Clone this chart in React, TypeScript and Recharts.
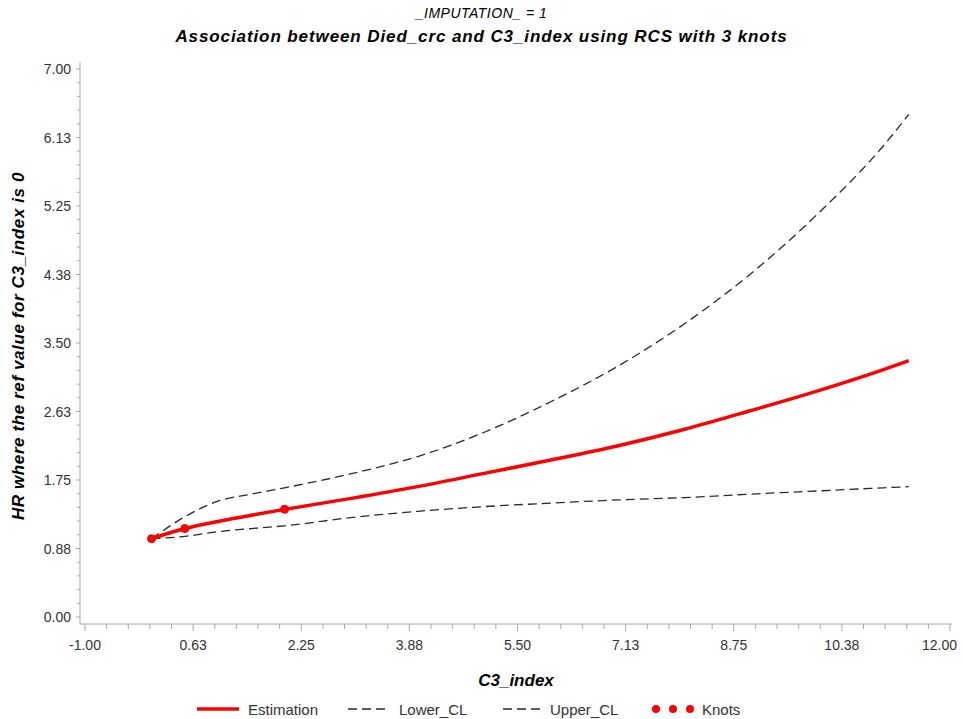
import React from 'react';
import { ComposedChart, Line, XAxis, YAxis, Label } from 'recharts';

// ---- data ----
const xValues = [0, 0.5, 1, 1.5, 2, 3, 4, 5, 6, 7, 8, 9, 10, 11, 11.38];
const estimation = [1.0, 1.13, 1.22, 1.3, 1.375, 1.515, 1.665, 1.835, 2.005, 2.185, 2.395, 2.635, 2.885, 3.16, 3.275];
const lowerCL = [1.0, 1.03, 1.09, 1.13, 1.165, 1.27, 1.35, 1.41, 1.455, 1.495, 1.525, 1.57, 1.61, 1.65, 1.665];
const upperCL = [1.0, 1.28, 1.48, 1.57, 1.65, 1.83, 2.05, 2.36, 2.75, 3.2, 3.74, 4.38, 5.14, 6.02, 6.42];
const knotX = [0, 0.5, 2];
const knotY = [1.0, 1.13, 1.375];

const xMajorTicks = [-1, 0.625, 2.25, 3.875, 5.5, 7.125, 8.75, 10.375, 12];
const xMajorLabels = ['-1.00', '0.63', '2.25', '3.88', '5.50', '7.13', '8.75', '10.38', '12.00'];
const yMajorTicks = [0, 0.875, 1.75, 2.625, 3.5, 4.375, 5.25, 6.125, 7];
const yMajorLabels = ['0.00', '0.88', '1.75', '2.63', '3.50', '4.38', '5.25', '6.13', '7.00'];
const MINOR_PER_MAJOR = 5;

const title1 = '_IMPUTATION_ = 1';
const title2 = 'Association between Died_crc and C3_index using RCS with 3 knots';
const xTitle = 'C3_index';
const yTitle = 'HR where the ref value for C3_index is 0';
const legendNames = ['Estimation', 'Lower_CL', 'Upper_CL', 'Knots'];

// ---- derived ----
const withMinors = (majors: number[]) => {
  const out: number[] = [];
  for (let i = 0; i < majors.length - 1; i++) {
    const step = (majors[i + 1] - majors[i]) / MINOR_PER_MAJOR;
    for (let k = 0; k < MINOR_PER_MAJOR; k++) out.push(majors[i] + step * k);
  }
  out.push(majors[majors.length - 1]);
  return out;
};
const xTicks = withMinors(xMajorTicks);
const yTicks = withMinors(yMajorTicks);

const rows = xValues.map((x, i) => {
  const ki = knotX.indexOf(x);
  return {
    x,
    est: estimation[i],
    lower: lowerCL[i],
    upper: upperCL[i],
    knot: ki >= 0 ? knotY[ki] : undefined,
  };
});

const FONT = '"Liberation Sans", Arial, sans-serif';
const AXIS_COLOR = '#a8a8a8';
const TEXT_COLOR = '#333333';
const CL_COLOR = '#2a2a2a';
const CL_DASH = '9 5';

const majorIndex = (majors: number[], v: number) => majors.findIndex((m) => Math.abs(m - v) < 1e-6);

const XTick = (props: any) => {
  const { x, y, payload } = props;
  const mi = majorIndex(xMajorTicks, payload.value);
  const len = mi >= 0 ? 7 : 5;
  const isLast = mi === xMajorTicks.length - 1;
  return (
    <g>
      <line x1={x} x2={x} y1={y} y2={y + len} stroke={AXIS_COLOR} strokeWidth={1} />
      {mi >= 0 && (
        <text
          x={isLast ? x + 7 : x}
          y={y + 21}
          textAnchor={isLast ? 'end' : 'middle'}
          dominantBaseline="central"
          fontSize={14}
          fill={TEXT_COLOR}
          fontFamily={FONT}
        >
          {xMajorLabels[mi]}
        </text>
      )}
    </g>
  );
};

const YTick = (props: any) => {
  const { x, y, payload } = props;
  const mi = majorIndex(yMajorTicks, payload.value);
  const len = mi >= 0 ? 4 : 3;
  return (
    <g>
      <line x1={x - len} x2={x} y1={y} y2={y} stroke={AXIS_COLOR} strokeWidth={1} />
      {mi >= 0 && (
        <text x={x - 9} y={y} textAnchor="end" dominantBaseline="central" fontSize={14} fill={TEXT_COLOR} fontFamily={FONT}>
          {yMajorLabels[mi]}
        </text>
      )}
    </g>
  );
};

const XTitle = (props: any) => {
  const vb = props.viewBox || {};
  return (
    <text x={vb.x + vb.width / 2} y={vb.y + 56} textAnchor="middle" dominantBaseline="central" fontSize={17} fontWeight="bold" fontStyle="italic" fill="#000" fontFamily={FONT}>
      {xTitle}
    </text>
  );
};

const YTitle = (props: any) => {
  const vb = props.viewBox || {};
  const cx = 18;
  const cy = vb.y + vb.height / 2 + 3;
  return (
    <text
      x={cx}
      y={cy}
      transform={`rotate(-90 ${cx} ${cy})`}
      textAnchor="middle"
      dominantBaseline="central"
      fontSize={17}
      fontWeight="bold"
      fontStyle="italic"
      letterSpacing={0.6}
      fill="#000"
      fontFamily={FONT}
    >
      {yTitle}
    </text>
  );
};

const KnotDot = (props: any) => {
  const { cx, cy, payload, index } = props;
  if (payload == null || payload.knot == null || cy == null || isNaN(cy)) return <g key={`k${index}`} />;
  return <circle key={`k${index}`} cx={cx} cy={cy} r={4} fill="#ff0000" stroke="#ff0000" strokeWidth={1} />;
};

const LegendBar = () => (
  <svg width={963} height={28} style={{ position: 'absolute', left: 0, top: 695 }}>
    <line x1={197} x2={239} y1={14} y2={14} stroke="#ff0000" strokeWidth={3.5} />
    <text x={248} y={14} dominantBaseline="central" fontSize={15} fill={TEXT_COLOR} fontFamily={FONT}>{legendNames[0]}</text>
    <line x1={348} x2={385} y1={14} y2={14} stroke={CL_COLOR} strokeWidth={1.3} strokeDasharray={CL_DASH} />
    <text x={399} y={14} dominantBaseline="central" fontSize={15} fill={TEXT_COLOR} fontFamily={FONT}>{legendNames[1]}</text>
    <line x1={503} x2={540} y1={14} y2={14} stroke={CL_COLOR} strokeWidth={1.3} strokeDasharray={CL_DASH} />
    <text x={550} y={14} dominantBaseline="central" fontSize={15} fill={TEXT_COLOR} fontFamily={FONT}>{legendNames[2]}</text>
    <circle cx={656} cy={14} r={4} fill="#ff0000" />
    <circle cx={673} cy={14} r={4} fill="#ff0000" />
    <circle cx={690} cy={14} r={4} fill="#ff0000" />
    <text x={702} y={14} dominantBaseline="central" fontSize={15} fill={TEXT_COLOR} fontFamily={FONT}>{legendNames[3]}</text>
  </svg>
);

export default function App() {
  return (
    <div style={{ position: 'absolute', left: 0, top: 0, width: 963, height: 719, background: '#ffffff', fontFamily: FONT }}>
      <div style={{ position: 'absolute', left: 0, top: 5, width: 963, textAlign: 'center', fontSize: 14, lineHeight: '17px', letterSpacing: '0.5px', fontStyle: 'italic', color: '#000' }}>
        {title1}
      </div>
      <div style={{ position: 'absolute', left: 0, top: 27, width: 963, textAlign: 'center', fontSize: 17, lineHeight: '20px', letterSpacing: '0.9px', fontStyle: 'italic', fontWeight: 'bold', color: '#000' }}>
        {title2}
      </div>
      <ComposedChart width={963} height={719} data={rows} margin={{ top: 62, right: 11, bottom: 0, left: 0 }}>
        <XAxis
          type="number"
          dataKey="x"
          domain={[-1, 12]}
          ticks={xTicks}
          interval={0}
          tick={<XTick />}
          tickLine={false}
          tickSize={0}
          tickMargin={0}
          axisLine={{ stroke: AXIS_COLOR, strokeWidth: 1 }}
          height={95}
          padding={{ left: 5, right: 2 }}
          allowDataOverflow
        >
          <Label content={<XTitle />} />
        </XAxis>
        <YAxis
          type="number"
          domain={[0, 7]}
          ticks={yTicks}
          interval={0}
          tick={<YTick />}
          tickLine={false}
          tickSize={0}
          tickMargin={0}
          axisLine={{ stroke: AXIS_COLOR, strokeWidth: 1 }}
          width={80}
          padding={{ top: 7, bottom: 7 }}
          allowDataOverflow
        >
          <Label content={<YTitle />} />
        </YAxis>
        <Line type="monotone" dataKey="lower" stroke={CL_COLOR} strokeWidth={1.3} strokeDasharray={CL_DASH} dot={false} activeDot={false} isAnimationActive={false} />
        <Line type="monotone" dataKey="upper" stroke={CL_COLOR} strokeWidth={1.3} strokeDasharray={CL_DASH} dot={false} activeDot={false} isAnimationActive={false} />
        <Line type="monotone" dataKey="est" stroke="#ff0000" strokeWidth={3.5} dot={false} activeDot={false} isAnimationActive={false} />
        <Line dataKey="knot" stroke="none" dot={<KnotDot />} activeDot={false} isAnimationActive={false} connectNulls={false} />
      </ComposedChart>
      <LegendBar />
    </div>
  );
}
